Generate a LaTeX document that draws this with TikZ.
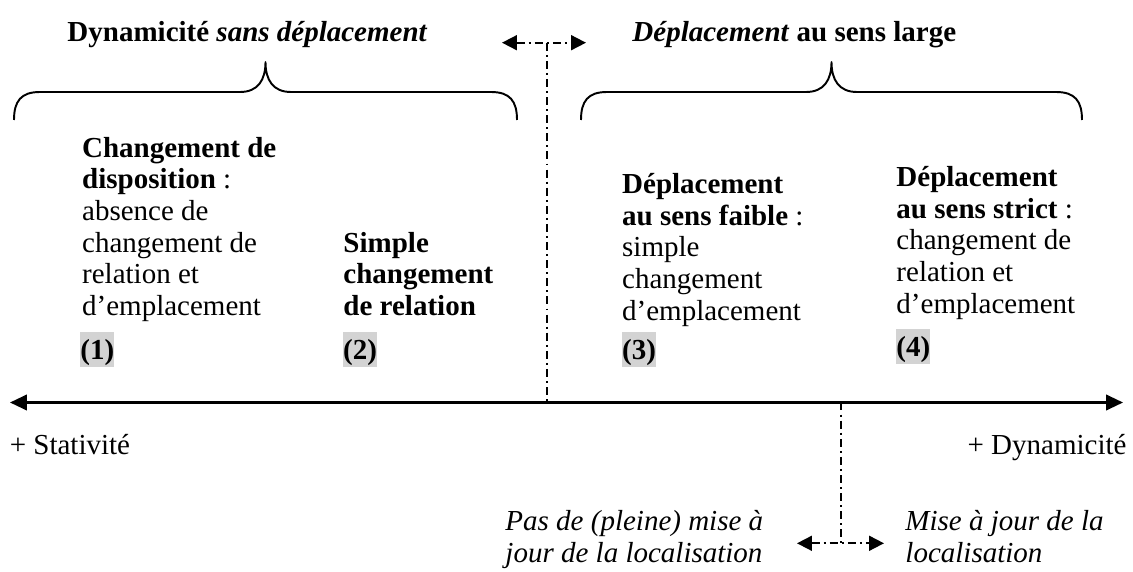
\documentclass[tikz,border=0pt]{standalone}
\usepackage{fontspec}
\setmainfont{Liberation Serif}
\usetikzlibrary{arrows.meta}
\definecolor{hl}{HTML}{D3D3D3}
\newcommand{\hlb}[1]{{\setlength{\fboxsep}{0pt}\colorbox{hl}{\rule[-3pt]{0pt}{14.5pt}\textbf{#1}}}}
\newcommand{\topstrut}{\rule{0pt}{10.7pt}}
\newcommand{\myfont}{\fontsize{12}{13.12}\selectfont\setlength{\lineskiplimit}{-6pt}}
\tikzset{
  txt/.style={inner sep=0pt, font=\myfont},
  blk/.style={txt, anchor=north west, align=left},
  num/.style={txt, anchor=base west},
  brace/.style={line width=0.8pt, line join=round},
  dashdot/.style={line width=0.75pt, dash pattern=on 3.3pt off 1.7pt on 0.8pt off 1.7pt},
  dtip/.style={{Triangle[length=6.2pt,width=6.2pt]}-{Triangle[length=6.2pt,width=6.2pt]}},
  axis/.style={line width=1pt, {Triangle[length=7pt,width=6.4pt]}-{Triangle[length=7pt,width=6.4pt]}}
}
\begin{document}
\begin{tikzpicture}[x=0.41379pt,y=-0.41379pt]
\useasboundingbox (0,0) rectangle (1133,572);

% titles
\node[txt, anchor=base west] (t1) at (67,42) {\textbf{Dynamicité} \textbf{\textit{sans déplacement}}};
\node[txt, anchor=base west] (t2) at (632,42) {\textbf{\textit{Déplacement}} \textbf{au sens large}};

% braces
\draw[brace] (14,120) .. controls (14,101) and (21,92) .. (40,92) -- (240,92)
  .. controls (258,92) and (265.5,80) .. (265.5,62)
  .. controls (265.5,80) and (273,92) .. (291,92) -- (491,92)
  .. controls (510,92) and (517,101) .. (517,120);
\draw[brace] (581,120) .. controls (581,101) and (588,92) .. (607,92) -- (806,92)
  .. controls (824,92) and (831.5,80) .. (831.5,62)
  .. controls (831.5,80) and (839,92) .. (857,92) -- (1056,92)
  .. controls (1075,92) and (1082,101) .. (1082,120);

% text blocks (top = first baseline - 25.9)
\node[blk] (b1) at (81.7,130.8) {\topstrut\textbf{Changement de}\\\textbf{disposition} :\\absence de\\changement de\\relation et\\d’emplacement};
\node[blk] (b2) at (343,225.8) {\topstrut\textbf{Simple}\\\textbf{changement}\\\textbf{de relation}};
\node[blk] (b3) at (621.7,167.1) {\topstrut\textbf{Déplacement}\\\textbf{au sens faible} :\\simple\\changement\\d’emplacement};
\node[blk] (b4) at (896,160.1) {\topstrut\textbf{Déplacement}\\\textbf{au sens strict} :\\changement de\\relation et\\d’emplacement};

% highlighted numbers
\node[num] (n1) at (80,359.5) {\hlb{(1)}};
\node[num] (n2) at (342.7,359.5) {\hlb{(2)}};
\node[num] (n3) at (621.7,359.5) {\hlb{(3)}};
\node[num] (n4) at (896,357) {\hlb{(4)}};

% axis
\coordinate (axL) at (10,402.5);
\coordinate (axR) at (1123,402.5);
\draw[axis] (axL) -- (axR);
\node[txt, anchor=base west] (stat) at (9.3,455) {+ Stativité};
\node[txt, anchor=base east] (dyn) at (1127,455) {+ Dynamicité};

% upper separator
\coordinate (uTop) at (546.7,42.7);
\coordinate (uBot) at (546.7,402.5);
\coordinate (uL) at (502,42.7);
\coordinate (uR) at (586,42.7);
\draw[dashdot] (uTop) -- (uBot);
\draw[dashdot, dtip] (uL) -- (uR);

% lower separator
\coordinate (lTop) at (841,402.5);
\coordinate (lBot) at (841,543.3);
\coordinate (lL) at (797,543.3);
\coordinate (lR) at (884,543.3);
\draw[dashdot] (lTop) -- (lBot);
\draw[dashdot, dtip] (lL) -- (lR);

% lower texts
\node[blk] (p1) at (505,504.2) {\topstrut\textit{Pas de (pleine) mise à}\\\textit{jour de la localisation}};
\node[blk] (p2) at (905,504.2) {\topstrut\textit{Mise à jour de la}\\\textit{localisation}};
\end{tikzpicture}
\end{document}
